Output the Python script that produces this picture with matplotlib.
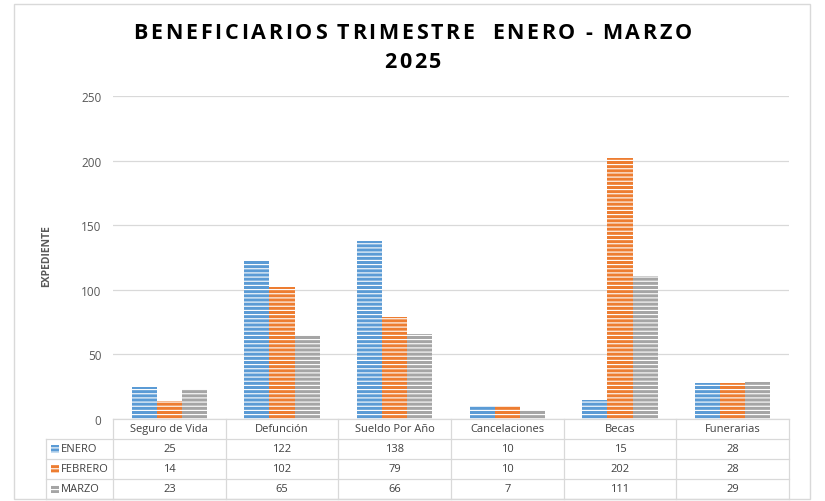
import matplotlib
matplotlib.use("Agg")
import matplotlib.pyplot as plt
from matplotlib.patches import Rectangle
import numpy as np

# datos del grafico
categorias = ["Seguro de Vida", "Defunción", "Sueldo Por Año", "Cancelaciones", "Becas", "Funerarias"]
meses = ["ENERO", "FEBRERO", "MARZO"]
enero = [25, 122, 138, 10, 15, 28]
febrero = [14, 102, 79, 10, 202, 28]
marzo = [23, 65, 66, 7, 111, 29]
colores = ["#5B9BD5", "#ED7D31", "#A5A5A5"]
y_ticks = [0, 50, 100, 150, 200, 250]
titulo1 = "BENEFICIARIOS TRIMESTRE  ENERO - MARZO"
titulo2 = "2025"

plt.rcParams["font.family"] = ["Open Sans", "DejaVu Sans"]
plt.rcParams["hatch.linewidth"] = 0.8

W, H = 825, 502
fig = plt.figure(figsize=(W / 100, H / 100), dpi=100)
fig.patch.set_facecolor("white")


def fx(px):
    return px / W


def fy(py):
    return 1 - py / H


# marco exterior
fig.patches.append(Rectangle((fx(14), fy(500)), (810 - 14) / W, (500 - 5) / H,
                             transform=fig.transFigure, fill=False,
                             edgecolor="#d9d9d9", linewidth=1))

ax_l, ax_r, ax_t, ax_b = 113, 789, 97, 420
ax = fig.add_axes([fx(ax_l), fy(ax_b), (ax_r - ax_l) / W, (ax_b - ax_t) / H])

n = len(categorias)
x = np.arange(n)
ancho = 0.222
series = [enero, febrero, marzo]
for i, (serie, color) in enumerate(zip(series, colores)):
    ax.bar(x + (i - 1) * ancho, serie, ancho, color=color, edgecolor="white",
           linewidth=0, hatch="----", zorder=3)

ax.set_xlim(-0.5, n - 0.5)
ax.set_ylim(0, 250)
ax.set_yticks(y_ticks)
ax.set_xticks([])
ax.tick_params(axis="y", length=0, pad=8.5, labelsize=8.5, labelcolor="#595959")
ax.grid(axis="y", color="#d9d9d9", linewidth=0.9, zorder=0)
for s in ax.spines.values():
    s.set_visible(False)

# titulo con espaciado entre letras
renderer = fig.canvas.get_renderer()


def texto_espaciado(cadena, yc, size, espacio):
    piezas = []
    for ch in cadena:
        t = fig.text(0, fy(yc), ch, ha="left", va="center", fontsize=size,
                     fontweight="bold", color="#000000")
        piezas.append(t)
    anchos = [t.get_window_extent(renderer).width if ch != " " else size * 0.3
              for t, ch in zip(piezas, cadena)]
    total = sum(anchos) + espacio * (len(cadena) - 1)
    xpos = (W - total) / 2
    for t, w in zip(piezas, anchos):
        t.set_x(xpos / W)
        xpos += w + espacio


texto_espaciado(titulo1, 34, 15.5, 2.7)
texto_espaciado(titulo2, 63, 15.5, 2.7)

# etiqueta eje y
fig.text(fx(47), fy(256), "EXPEDIENTE", rotation=90, ha="center", va="center",
         fontsize=7.5, fontweight="bold", color="#595959")

# tabla de datos
fila_h = 20
col_w = (ax_r - ax_l) / n
linea = dict(color="#d9d9d9", linewidth=0.9)

fig.add_artist(plt.Line2D([fx(ax_l), fx(ax_r)], [fy(ax_b), fy(ax_b)], **linea))
for k in range(1, 5):
    yy = ax_b + k * fila_h
    fig.add_artist(plt.Line2D([fx(46), fx(ax_r)], [fy(yy), fy(yy)], **linea))
for k in range(n + 1):
    xx = ax_l + k * col_w
    fig.add_artist(plt.Line2D([fx(xx), fx(xx)], [fy(ax_b), fy(ax_b + 4 * fila_h)], **linea))
fig.add_artist(plt.Line2D([fx(46), fx(46)], [fy(ax_b + fila_h), fy(ax_b + 4 * fila_h)], **linea))

for j, cat in enumerate(categorias):
    fig.text(fx(ax_l + (j + 0.5) * col_w), fy(ax_b + fila_h / 2), cat, ha="center", va="center",
             fontsize=8, color="#404040")

for i, (mes, serie, color) in enumerate(zip(meses, series, colores)):
    yc = ax_b + (i + 1.5) * fila_h
    fig.patches.append(Rectangle((fx(51), fy(yc + 4)), 8 / W, 8 / H,
                                 transform=fig.transFigure, facecolor=color,
                                 edgecolor="white", linewidth=0, hatch="----"))
    fig.text(fx(61), fy(yc), mes, ha="left", va="center", fontsize=8, color="#404040")
    for j, v in enumerate(serie):
        fig.text(fx(ax_l + (j + 0.5) * col_w), fy(yc), str(v), ha="center", va="center",
                 fontsize=8, color="#404040")

fig.savefig("out.png", dpi=100, facecolor="white")
